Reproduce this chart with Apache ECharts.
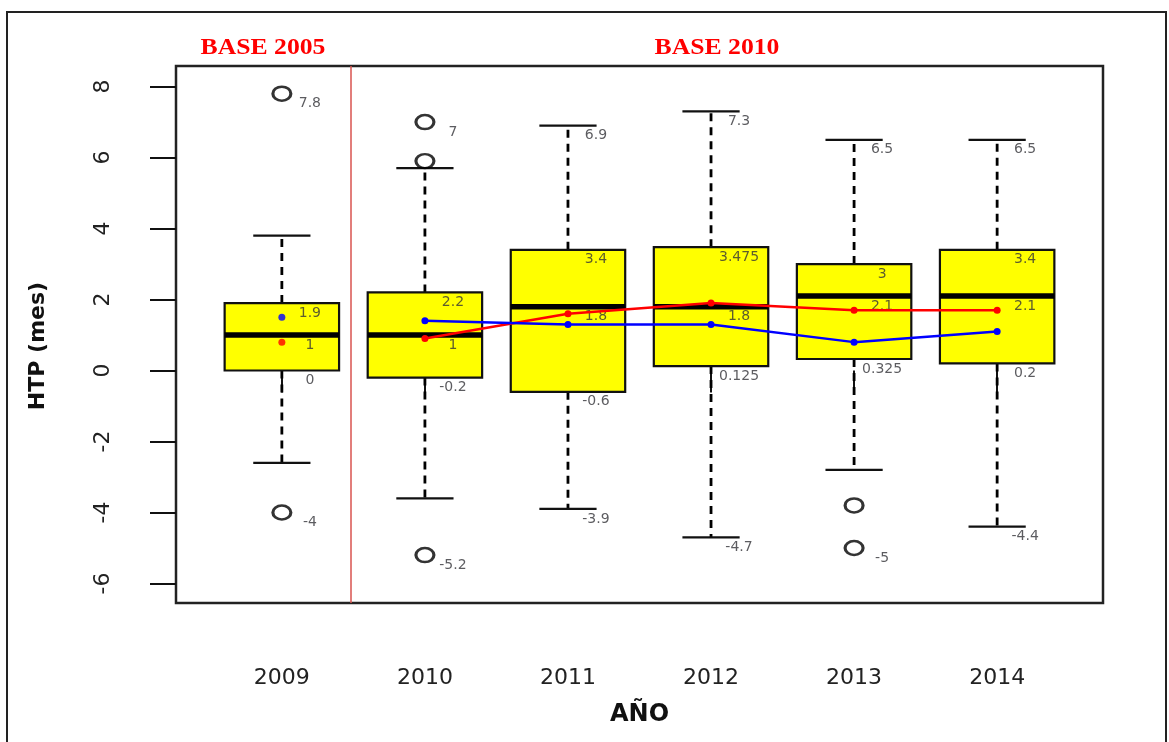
<!DOCTYPE html>
<html>
<head>
<meta charset="utf-8">
<script src="https://cdn.jsdelivr.net/npm/echarts@6/dist/echarts.min.js"></script>
<style>
  html, body { margin: 0; padding: 0; background: #fff; }
  #chart { width: 1169px; height: 742px; }
</style>
</head>
<body>
<div id="chart"></div>
<script>
// categories
const years = ['2009', '2010', '2011', '2012', '2013', '2014'];

// box statistics per year
const whiskerLow  = [-2.6, -3.6, -3.9, -4.7, -2.8, -4.4];
const quart1      = [0, -0.2, -0.6, 0.125, 0.325, 0.2];
const medians     = [1, 1, 1.8, 1.8, 2.1, 2.1];
const quart3      = [1.9, 2.2, 3.4, 3.475, 3, 3.4];
const whiskerHigh = [3.8, 5.7, 6.9, 7.3, 6.5, 6.5];

// outliers: [year index, value]
const outliers = [[0, 7.8], [0, -4], [1, 7], [1, 5.9], [1, -5.2], [4, -3.8], [4, -5]];

// mean lines
const meanRed  = [0.8, 0.9, 1.6, 1.9, 1.7, 1.7];
const meanBlue = [1.5, 1.4, 1.3, 1.3, 0.8, 1.1];

// y tick values
const yTicks = [-6, -4, -2, 0, 2, 4, 6, 8];

const xOf = i => i + 1;

const boxData = years.map((y, i) => [xOf(i), whiskerLow[i], quart1[i], medians[i], quart3[i], whiskerHigh[i]]);
const outlierData = outliers.map(o => [xOf(o[0]), o[1]]);

// labels: max, q3, median, q1, min of each year
const labelData = [];
years.forEach((y, i) => {
    const out = outliers.filter(o => o[0] === i).map(o => o[1]);
    const all = [whiskerLow[i], whiskerHigh[i]].concat(out);
    [Math.max(...all), quart3[i], medians[i], quart1[i], Math.min(...all)].forEach(v => {
        labelData.push([xOf(i), v]);
    });
});

// box + whiskers + caps + median
const renderBox = (params, api) => {
    const x = api.value(0);
    const pLo = api.coord([x, api.value(1)]);
    const pQ1 = api.coord([x, api.value(2)]);
    const pMed = api.coord([x, api.value(3)]);
    const pQ3 = api.coord([x, api.value(4)]);
    const pHi = api.coord([x, api.value(5)]);
    const halfBox = api.size([0.4, 0])[0];
    const halfCap = api.size([0.2, 0])[0];
    const cx = pMed[0];
    const dash = { stroke: '#000', lineWidth: 2.8, lineDash: [8, 6] };
    const solid = { stroke: '#111', lineWidth: 2.2 };
    return {
        type: 'group',
        children: [
            { type: 'line', shape: { x1: cx, y1: pQ3[1], x2: cx, y2: pHi[1] }, style: dash },
            { type: 'line', shape: { x1: cx, y1: pQ1[1], x2: cx, y2: pLo[1] }, style: dash },
            { type: 'line', shape: { x1: cx - halfCap, y1: pHi[1], x2: cx + halfCap, y2: pHi[1] }, style: solid },
            { type: 'line', shape: { x1: cx - halfCap, y1: pLo[1], x2: cx + halfCap, y2: pLo[1] }, style: solid },
            {
                type: 'rect',
                shape: { x: cx - halfBox, y: pQ3[1], width: halfBox * 2, height: pQ1[1] - pQ3[1] },
                style: { fill: '#ffff00', stroke: '#111', lineWidth: 2.2 }
            },
            { type: 'line', shape: { x1: cx - halfBox, y1: pMed[1], x2: cx + halfBox, y2: pMed[1] }, style: { stroke: '#000', lineWidth: 5.5 } }
        ]
    };
};

const chart = echarts.init(document.getElementById('chart'));

const option = {
    animation: false,
    grid: { left: 176, top: 66, right: 66, bottom: 139, show: true, borderColor: '#222', borderWidth: 2.5, backgroundColor: 'transparent' },
    graphic: [
        {
            type: 'rect', z: -1, silent: true,
            shape: { x: 7, y: 12, width: 1159, height: 780 },
            style: { fill: 'transparent', stroke: '#222', lineWidth: 2 }
        },
        {
            type: 'text', x: 263, y: 48, scaleX: 1.07,
            style: { text: 'BASE 2005', font: 'bold 24px "Liberation Serif"', fill: '#ff0000', align: 'center', verticalAlign: 'middle' }
        },
        {
            type: 'text', x: 717, y: 48, scaleX: 1.07,
            style: { text: 'BASE 2010', font: 'bold 24px "Liberation Serif"', fill: '#ff0000', align: 'center', verticalAlign: 'middle' }
        },
        {
            type: 'text', x: 38, y: 346, rotation: Math.PI / 2,
            style: { text: 'HTP (mes)', font: 'bold 22px "DejaVu Sans"', fill: '#111', align: 'center', verticalAlign: 'middle' }
        }
    ],
    xAxis: {
        type: 'value',
        min: 0.26,
        max: 6.74,
        name: 'AÑO',
        nameLocation: 'middle',
        nameGap: 100,
        nameTextStyle: { fontFamily: 'DejaVu Sans', fontWeight: 'bold', fontSize: 24, color: '#111' },
        axisLine: { show: false },
        splitLine: { show: false },
        axisTick: {
            show: true, length: 22, customValues: years.map((y, i) => xOf(i)),
            lineStyle: { color: '#111', width: 2 }
        },
        axisLabel: {
            customValues: years.map((y, i) => xOf(i)),
            formatter: v => years[Math.round(v) - 1],
            margin: 64,
            fontFamily: 'DejaVu Sans',
            fontSize: 22,
            color: '#222'
        }
    },
    yAxis: {
        type: 'value',
        min: -6.55,
        max: 8.58,
        axisLine: { show: false },
        splitLine: { show: false },
        axisTick: {
            show: true, length: 26, customValues: yTicks,
            lineStyle: { color: '#111', width: 2 }
        },
        axisLabel: {
            customValues: yTicks,
            rotate: 90,
            margin: 62,
            fontFamily: 'DejaVu Sans',
            fontSize: 22,
            color: '#222'
        }
    },
    series: [
        {
            type: 'custom',
            renderItem: renderBox,
            data: boxData,
            encode: { x: 0, y: [1, 2, 3, 4, 5] },
            markLine: {
                silent: true,
                symbol: 'none',
                label: { show: false },
                lineStyle: { color: '#d9534f', width: 1.5, type: 'solid' },
                data: [{ xAxis: 1.48 }]
            }
        },
        {
            type: 'scatter',
            data: outlierData,
            symbol: 'circle',
            symbolSize: [18, 14],
            itemStyle: { color: 'rgba(0,0,0,0)', borderColor: '#000', borderWidth: 2.8 }
        },
        {
            type: 'line',
            data: meanRed.slice(1).map((v, i) => [xOf(i + 1), v]),
            symbol: 'circle',
            symbolSize: 7,
            lineStyle: { color: '#ff0000', width: 2.5 },
            itemStyle: { color: '#ff0000' }
        },
        {
            type: 'line',
            data: meanBlue.slice(1).map((v, i) => [xOf(i + 1), v]),
            symbol: 'circle',
            symbolSize: 7,
            lineStyle: { color: '#0000ff', width: 2.5 },
            itemStyle: { color: '#0000ff' }
        },
        {
            type: 'scatter',
            data: [[xOf(0), meanRed[0]]],
            symbolSize: 7,
            itemStyle: { color: '#ff0000' }
        },
        {
            type: 'scatter',
            data: [[xOf(0), meanBlue[0]]],
            symbolSize: 7,
            itemStyle: { color: '#0000ff' }
        },
        {
            type: 'scatter',
            data: labelData,
            symbol: 'circle',
            symbolSize: 1,
            itemStyle: { color: 'rgba(0,0,0,0)' },
            label: {
                show: true,
                position: 'inside',
                offset: [28, 10],
                formatter: p => String(p.value[1]),
                fontFamily: 'DejaVu Sans',
                fontSize: 14,
                color: '#333338'
            }
        }
    ]
};

chart.setOption(option);
</script>
</body>
</html>
